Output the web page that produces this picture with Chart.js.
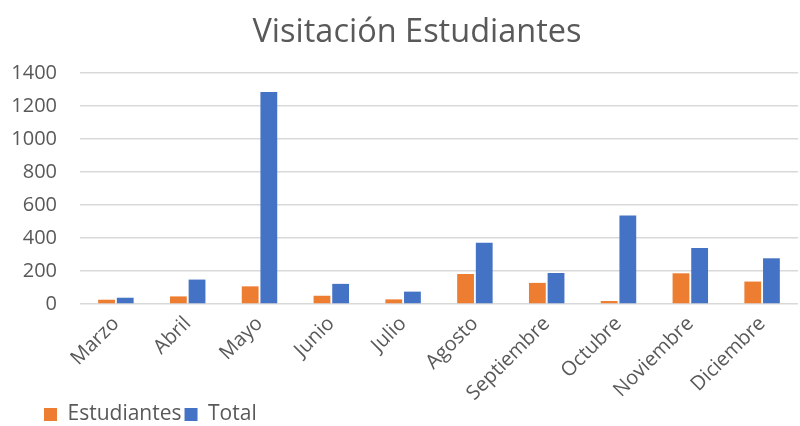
<!DOCTYPE html>
<html>
<head>
<meta charset="utf-8">
<script src="https://cdn.jsdelivr.net/npm/chart.js@4"></script>
<style>
    html, body { margin: 0; padding: 0; background: #fff; }
    #wrap { width: 800px; height: 426px; }
</style>
</head>
<body>
<div id="wrap"><canvas id="visitChart"></canvas></div>
<script>
// Data
const months = ['Marzo', 'Abril', 'Mayo', 'Junio', 'Julio', 'Agosto', 'Septiembre', 'Octubre', 'Noviembre', 'Diciembre'];
const estudiantes = [26, 46, 107, 50, 28, 182, 128, 18, 186, 136];
const total = [38, 148, 1285, 122, 75, 371, 188, 537, 340, 277];

const textColor = '#595959';
const fontFamily = "'Open Sans', 'Noto Sans', sans-serif";

// title and legend in the original sit a bit off the default spots
const shiftBoxes = {
    id: 'shiftBoxes',
    afterLayout(chart) {
        chart.titleBlock.left = 36;
        chart.legend.left = 41;
        chart.legend.top = 401;
    }
};

new Chart(document.getElementById('visitChart'), {
    type: 'bar',
    data: {
        labels: months,
        datasets: [
            {
                label: 'Estudiantes',
                data: estudiantes,
                backgroundColor: '#ed7d31'
            },
            {
                label: 'Total',
                data: total,
                backgroundColor: '#4472c4'
            }
        ]
    },
    options: {
        responsive: true,
        maintainAspectRatio: false,
        animation: false,
        datasets: {
            bar: { categoryPercentage: 0.52, barPercentage: 0.9 }
        },
        // rotated month labels reach down beside the legend, like the original
        layout: { padding: { left: 10, right: 2, top: 0, bottom: -19 } },
        scales: {
            x: {
                grid: { display: false },
                border: { display: false },
                ticks: {
                    color: textColor,
                    font: { family: fontFamily, size: 20 },
                    minRotation: 45,
                    maxRotation: 45,
                    padding: 0
                },
                afterFit: (scale) => { scale.height = 107; }
            },
            y: {
                min: 0,
                max: 1400,
                border: { display: false },
                grid: { color: '#d9d9d9', lineWidth: 1.5, drawTicks: false },
                ticks: {
                    stepSize: 200,
                    color: textColor,
                    font: { family: fontFamily, size: 20 },
                    padding: 23,
                    callback: (v) => String(v)
                },
                afterFit: (scale) => { scale.width = 70; }
            }
        },
        plugins: {
            title: {
                display: true,
                text: 'Visitación Estudiantes',
                color: textColor,
                font: { family: fontFamily, size: 32.5, weight: 'normal' },
                padding: { top: 13, bottom: 21 }
            },
            legend: {
                position: 'bottom',
                align: 'start',
                labels: {
                    color: textColor,
                    font: { family: fontFamily, size: 21 },
                    boxWidth: 13,
                    boxHeight: 13,
                    padding: 3
                }
            },
            tooltip: { enabled: false }
        }
    },
    plugins: [shiftBoxes]
});
</script>
</body>
</html>
